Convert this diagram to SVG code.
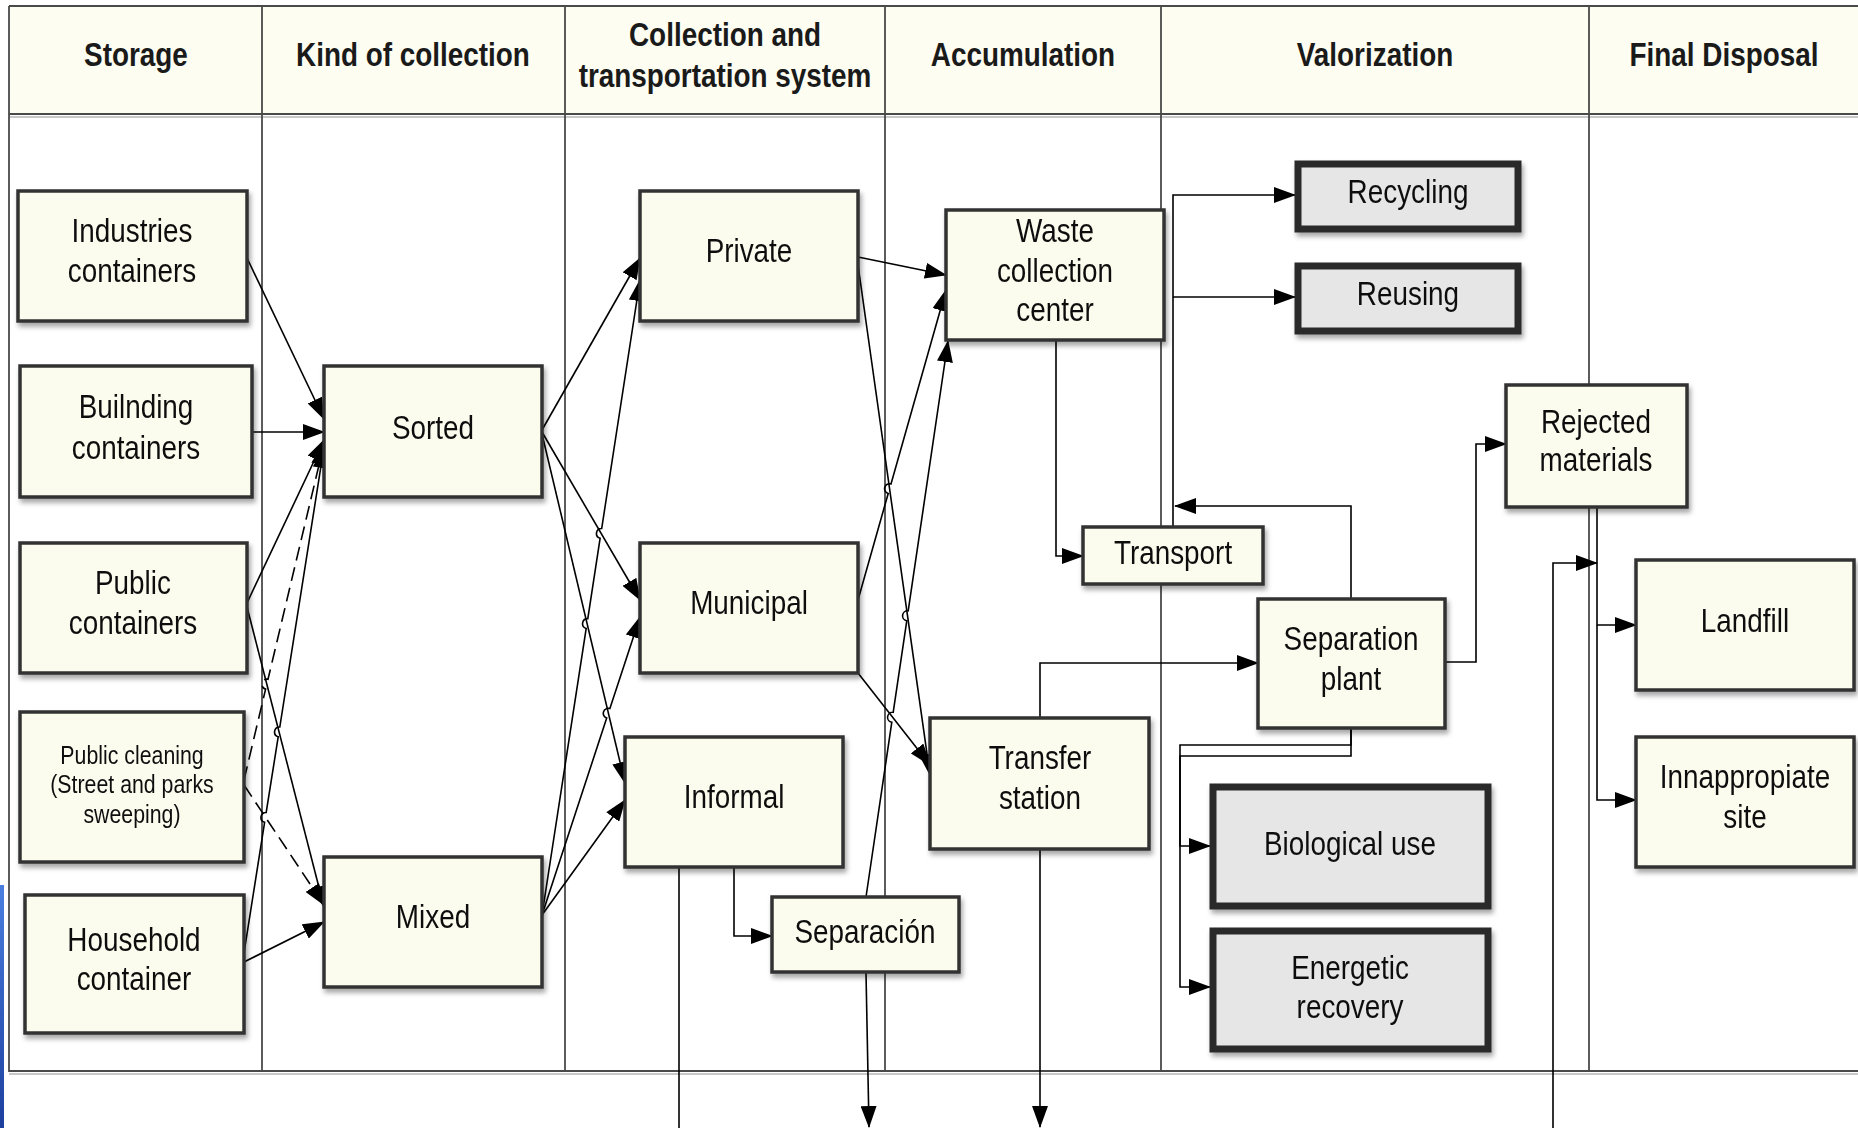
<svg xmlns="http://www.w3.org/2000/svg" width="1858" height="1128" viewBox="0 0 1858 1128">
<defs>
<style>
.bg{fill:#ffffff}
.hdr{fill:#fdfdf1}
.grid{stroke:#4a4a4a;stroke-width:1.8;fill:none}
.gsh{stroke:#c8c8c8;stroke-width:2;fill:none}
.node rect{fill:#fcfcee;stroke:#333;stroke-width:3.5}
.hl rect{fill:#e6e6e6;stroke:#2a2a2a;stroke-width:7}
text{font-family:"Liberation Sans Narrow","Liberation Sans",Arial,sans-serif;font-size:34px;fill:#111;text-anchor:middle;transform-box:fill-box;transform-origin:center;transform:scaleX(0.82)}
.ht{font-weight:bold;fill:#1a1a1a}
.sm{font-size:26px}
.c{stroke:#000;stroke-width:1.6;fill:none}
.a{marker-end:url(#ah)}
.d{stroke-dasharray:14 7}
</style>
<marker id="ah" viewBox="0 0 22 16" refX="21" refY="8" markerWidth="22" markerHeight="16" markerUnits="userSpaceOnUse" orient="auto"><path d="M0,0 L22,8 L0,16 Z" fill="#000"/></marker>
<filter id="sh" x="-10%" y="-10%" width="130%" height="130%"><feDropShadow dx="2" dy="4" stdDeviation="2.5" flood-color="#000" flood-opacity="0.35"/></filter>
<linearGradient id="blue" x1="0" y1="0" x2="0" y2="1"><stop offset="0" stop-color="#4a7fe0"/><stop offset="1" stop-color="#1d3f9e"/></linearGradient>
</defs>
<rect class="bg" x="0" y="0" width="1858" height="1128"/>
<rect x="0" y="885" width="4" height="243" fill="url(#blue)"/>

<g id="table">
<rect class="hdr" x="9" y="6" width="1860" height="108"/>
<line class="gsh" x1="9" y1="117" x2="1858" y2="117"/>
<line class="gsh" x1="9" y1="1074" x2="1858" y2="1074"/>
<path class="grid" d="M9,6 H1870 M9,6 V1071 H1870 M9,114 H1870"/>
<line class="grid" x1="9" y1="114" x2="1858" y2="114" stroke-width="2.6"/>
<line class="grid" x1="262" y1="6" x2="262" y2="1071"/>
<line class="grid" x1="565" y1="6" x2="565" y2="1071"/>
<line class="grid" x1="885" y1="6" x2="885" y2="1071"/>
<line class="grid" x1="1161" y1="6" x2="1161" y2="1071"/>
<line class="grid" x1="1589" y1="6" x2="1589" y2="1071"/>
<text class="ht" x="136" y="66">Storage</text>
<text class="ht" x="413" y="66">Kind of collection</text>
<text class="ht" x="725" y="46">Collection and</text>
<text class="ht" x="725" y="87">transportation system</text>
<text class="ht" x="1023" y="66">Accumulation</text>
<text class="ht" x="1375" y="66">Valorization</text>
<text class="ht" x="1724" y="66">Final Disposal</text>
</g>

<g id="connectors">
<path class="c a" d="M247,258 L324,419"/>
<path class="c a" d="M252,432 L324,432"/>
<path class="c a" d="M247,603 L324,440"/>
<path class="c a d" d="M244,780 L265.6,689.1 A5,5 0 0 1 268,679.3 L324,444"/>
<path class="c a" d="M244,953 L264.6,822.3 A5,5 0 0 1 266.2,812.5 L278.2,736.8 A5,5 0 0 1 279.8,727 L324,447"/>
<path class="c a" d="M247,607 L324,907"/>
<path class="c a d" d="M244,785 L324,905"/>
<path class="c a" d="M244,962 L324,922"/>

<path class="c a" d="M542,430 L640,258"/>
<path class="c a" d="M542,432 L640,600"/>
<path class="c a" d="M542,434 L625,783"/>
<path class="c a" d="M542,915 L586.2,628.4 A5,5 0 0 1 587.8,618.6 L600.1,538.3 A5,5 0 0 1 601.7,528.5 L640,280"/>
<path class="c a" d="M542,915 L606.7,718.1 A5,5 0 0 1 609.9,708.6 L640,617"/>
<path class="c a" d="M542,915 L625,800"/>

<path class="c a" d="M858,257 L946,275"/>
<path class="c a" d="M858,265 L930,775"/>
<path class="c a" d="M858,600 L888.2,493.5 A5,5 0 0 1 891,483.9 L946,290"/>
<path class="c a" d="M858,673 L930,765"/>
<path class="c a" d="M866,897 L891.8,722.2 A5,5 0 0 1 893.2,712.3 L906.8,620.7 A5,5 0 0 1 908.2,610.8 L948,341"/>

<path class="c" d="M679,867 V1128"/>
<path class="c a" d="M734,867 V936 H772"/>
<path class="c a" d="M866,973 L869,1127"/>
<path class="c a" d="M1040,849 V1127"/>
<path class="c a" d="M1040,718 V663 H1258"/>
<path class="c a" d="M1056,340 V556 H1083"/>
<path class="c a" d="M1173,527 V195 H1295"/>
<path class="c a" d="M1173,297 H1295"/>
<path class="c a" d="M1351,599 V506 H1175"/>
<path class="c a" d="M1445,662 H1476 V444 H1506"/>
<path class="c a" d="M1351,728 V745 H1180 V846 H1210"/>
<path class="c a" d="M1351,728 V756 H1180 V987 H1210"/>
<path class="c a" d="M1597,507 V625 H1636"/>
<path class="c a" d="M1597,625 V800 H1636"/>
<path class="c a" d="M1553,1128 V563 H1597"/>
</g>

<g id="industries" class="node" filter="url(#sh)"><rect x="18" y="191" width="229" height="130"/><text x="132" y="242">Industries</text><text x="132" y="282">containers</text></g>
<g id="building" class="node" filter="url(#sh)"><rect x="20" y="366" width="232" height="131"/><text x="136" y="418">Builnding</text><text x="136" y="459">containers</text></g>
<g id="public" class="node" filter="url(#sh)"><rect x="20" y="543" width="227" height="130"/><text x="133" y="594">Public</text><text x="133" y="634">containers</text></g>
<g id="cleaning" class="node" filter="url(#sh)"><rect x="20" y="712" width="224" height="150"/><text class="sm" x="132" y="764">Public cleaning</text><text class="sm" x="132" y="793">(Street and parks</text><text class="sm" x="132" y="823">sweeping)</text></g>
<g id="household" class="node" filter="url(#sh)"><rect x="25" y="895" width="219" height="138"/><text x="134" y="951">Household</text><text x="134" y="990">container</text></g>
<g id="sorted" class="node" filter="url(#sh)"><rect x="324" y="366" width="218" height="131"/><text x="433" y="439">Sorted</text></g>
<g id="mixed" class="node" filter="url(#sh)"><rect x="324" y="857" width="218" height="130"/><text x="433" y="928">Mixed</text></g>
<g id="private" class="node" filter="url(#sh)"><rect x="640" y="191" width="218" height="130"/><text x="749" y="262">Private</text></g>
<g id="municipal" class="node" filter="url(#sh)"><rect x="640" y="543" width="218" height="130"/><text x="749" y="614">Municipal</text></g>
<g id="informal" class="node" filter="url(#sh)"><rect x="625" y="737" width="218" height="130"/><text x="734" y="808">Informal</text></g>
<g id="separacion" class="node" filter="url(#sh)"><rect x="772" y="897" width="187" height="75"/><text x="865" y="943">Separación</text></g>
<g id="waste-center" class="node" filter="url(#sh)"><rect x="946" y="210" width="218" height="130"/><text x="1055" y="242">Waste</text><text x="1055" y="282">collection</text><text x="1055" y="321">center</text></g>
<g id="transfer" class="node" filter="url(#sh)"><rect x="930" y="718" width="219" height="131"/><text x="1040" y="769">Transfer</text><text x="1040" y="809">station</text></g>
<g id="transport" class="node" filter="url(#sh)"><rect x="1083" y="527" width="180" height="57"/><text x="1173" y="564">Transport</text></g>
<g id="recycling" class="hl" filter="url(#sh)"><rect x="1298" y="164" width="220" height="65"/><text x="1408" y="203">Recycling</text></g>
<g id="reusing" class="hl" filter="url(#sh)"><rect x="1298" y="266" width="220" height="65"/><text x="1408" y="305">Reusing</text></g>
<g id="rejected" class="node" filter="url(#sh)"><rect x="1506" y="385" width="181" height="122"/><text x="1596" y="433">Rejected</text><text x="1596" y="471">materials</text></g>
<g id="separation-plant" class="node" filter="url(#sh)"><rect x="1258" y="599" width="187" height="129"/><text x="1351" y="650">Separation</text><text x="1351" y="690">plant</text></g>
<g id="biological" class="hl" filter="url(#sh)"><rect x="1213" y="787" width="275" height="119"/><text x="1350" y="855">Biological use</text></g>
<g id="energetic" class="hl" filter="url(#sh)"><rect x="1213" y="931" width="275" height="118"/><text x="1350" y="979">Energetic</text><text x="1350" y="1018">recovery</text></g>
<g id="landfill" class="node" filter="url(#sh)"><rect x="1636" y="560" width="218" height="130"/><text x="1745" y="632">Landfill</text></g>
<g id="inappropriate" class="node" filter="url(#sh)"><rect x="1636" y="737" width="218" height="130"/><text x="1745" y="788">Innappropiate</text><text x="1745" y="828">site</text></g>
</svg>
